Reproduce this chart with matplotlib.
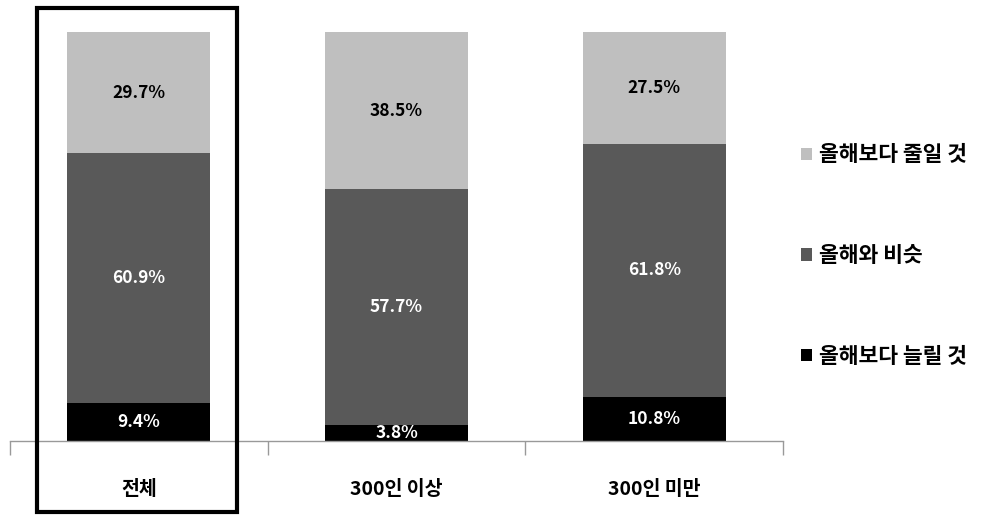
import numpy as np
import matplotlib.pyplot as plt
from matplotlib.patches import Rectangle, Patch

plt.rcParams['font.family'] = ['Noto Sans CJK KR', 'DejaVu Sans']

# --- data ---
categories = ['전체', '300인 이상', '300인 미만']
series_names = ['올해보다 늘릴 것', '올해와 비슷', '올해보다 줄일 것']
increase = [9.4, 3.8, 10.8]
same = [60.9, 57.7, 61.8]
decrease = [29.7, 38.5, 27.5]
colors = ['#000000', '#595959', '#BFBFBF']
label_colors = ['white', 'white', 'black']

fig = plt.figure(figsize=(9.83, 5.15), dpi=100)
ax = fig.add_axes([10 / 983, 74 / 515, 773 / 983, 409 / 515])

x = np.arange(len(categories))
bottom = np.zeros(len(categories))
for vals, col, lc, name in zip([increase, same, decrease], colors, label_colors, series_names):
    vals = np.array(vals)
    ax.bar(x, vals, width=0.555, bottom=bottom, color=col, label=name, zorder=2)
    for xi, b, v in zip(x, bottom, vals):
        ax.text(xi, b + v / 2, f'{v:.1f}%', ha='center', va='center',
                color=lc, fontsize=12.5, fontweight='bold', zorder=3)
    bottom += vals

ax.set_xlim(-0.5, 2.5)
ax.set_ylim(0, 100)
ax.set_yticks([])
for s in ['top', 'right', 'left']:
    ax.spines[s].set_visible(False)
ax.spines['bottom'].set_color('#999999')
ax.spines['bottom'].set_linewidth(1)

ax.set_xticks(x)
ax.set_xticklabels(categories, fontsize=14, fontweight='bold')
ax.tick_params(axis='x', which='major', length=0, pad=28)
ax.set_xticks([-0.5, 0.5, 1.5, 2.5], minor=True)
ax.tick_params(axis='x', which='minor', length=10, color='#999999', width=1)

# highlight box around first category
fig.patches.append(Rectangle((37 / 983, 3 / 515), 200 / 983, 504 / 515,
                             transform=fig.transFigure, fill=False,
                             edgecolor='black', linewidth=3))

handles = [Patch(facecolor=c) for c in colors][::-1]
fig.legend(handles, series_names[::-1], loc='upper left',
           bbox_to_anchor=(782 / 983, 390 / 515), frameon=False,
           handlelength=0.5, handleheight=0.5,
           handletextpad=0.3, labelspacing=3.7,
           prop={'weight': 'bold', 'size': 15.5})

fig.savefig('out.png', dpi=100)
